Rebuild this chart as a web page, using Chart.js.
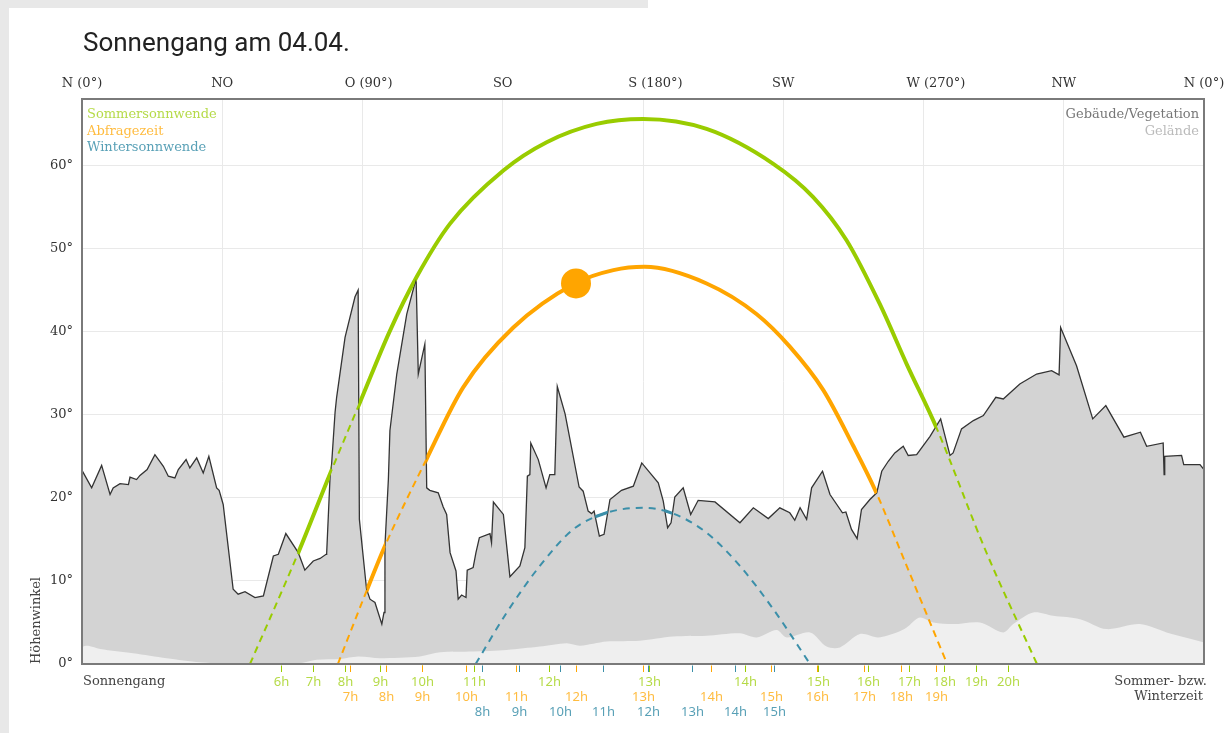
<!DOCTYPE html>
<html>
<head>
<meta charset="utf-8">
<title>Sonnengang am 04.04.</title>
<script src="https://cdn.jsdelivr.net/npm/chart.js@4"></script>
<style>
  html, body { margin: 0; padding: 0; background: #fff; }
  #wrap { position: relative; width: 1231px; height: 733px; overflow: hidden; }
  #stripTop { position: absolute; left: 0; top: 0; width: 648px; height: 8px; background: #e8e8e8; }
  #stripLeft { position: absolute; left: 0; top: 0; width: 9px; height: 733px; background: #e8e8e8; }
  canvas { position: absolute; left: 0; top: 0; }
</style>
</head>
<body>
<div id="wrap">
  <div id="stripTop"></div>
  <div id="stripLeft"></div>
  <canvas id="sunChart" width="1231" height="733"></canvas>
</div>
<script>
const TITLE = 'Sonnengang am 04.04.';
// leading spaces push the labels with degrees a little to the right, as in the original
const DIRECTIONS = ['N (0°)', 'NO', '   O (90°)', 'SO', '      S (180°)', 'SW', '      W (270°)', 'NW', 'N (0°)'];

// Horizont durch Gebäude/Vegetation (Azimut °, Höhe °)
const BUILDING_AZ = [0, 3.1, 6.3, 9.0, 10.0, 12.2, 14.9, 15.4, 17.5, 18.6, 20.9, 23.4, 26.1, 27.7, 29.8, 30.9,
  33.4, 34.6, 36.8, 38.9, 40.7, 43.2, 44.0, 45.3, 48.5, 50.1, 52.3, 55.5, 58.2, 61.4, 63.0, 65.4, 69.4,
  71.5, 74.2, 76.4, 78.3, 78.5, 79.6, 80.1, 81.2, 81.7, 84.4, 87.6, 88.6, 89.0, 91.3, 92.4, 94.0, 96.2,
  96.9, 97.2, 98.3, 98.8, 101.0, 104.2, 107.2, 107.9, 110.0, 110.6, 111.6, 114.3, 115.9, 117.0, 118.1,
  120.0, 120.7, 121.8, 123.2, 123.6, 125.5, 126.4, 127.5, 130.9, 131.4, 132.0, 135.2, 137.3, 140.5,
  142.1, 142.9, 143.7, 144.0, 146.4, 148.9, 150.1, 151.7, 152.5, 155.0, 159.5, 160.8, 162.4, 163.5,
  164.3, 166.0, 167.5, 169.4, 173.1, 176.9, 179.6, 184.9, 186.5, 187.9, 189.0, 190.2, 192.9, 195.3,
  197.7, 203.1, 211.1, 215.4, 220.2, 223.9, 227.1, 228.7, 230.4, 232.5, 234.1, 237.6, 240.0, 244.0,
  245.1, 246.9, 248.7, 250.1, 252.8, 255.0, 256.6, 258.7, 260.8, 263.5, 265.1, 267.8, 272.1, 275.5,
  278.5, 279.5, 282.2, 286.0, 289.2, 293.2, 295.6, 300.9, 306.3, 311.1, 313.5, 314.0, 319.1, 324.3,
  328.5, 334.3, 339.6, 341.6, 346.9, 347.2, 347.4, 352.8, 353.5, 358.7, 360];
const BUILDING_ALT = [23.3, 21.2, 23.9, 20.4, 21.2, 21.7, 21.6, 22.5, 22.2, 22.7, 23.4, 25.2, 23.8, 22.6, 22.4, 23.4,
  24.6, 23.6, 24.8, 23.0, 25.0, 21.2, 20.9, 19.2, 9.0, 8.4, 8.7, 8.0, 8.2, 13.0, 13.2, 15.7, 13.4,
  11.3, 12.4, 12.7, 13.2, 13.3, 22.6, 24.1, 30.3, 32.1, 39.3, 44.2, 45.0, 17.4, 9.0, 7.8, 7.4, 4.8,
  6.2, 14.2, 22.2, 28.1, 34.9, 42.1, 46.4, 34.9, 38.5, 21.2, 20.9, 20.6, 18.9, 18.0, 13.4,
  11.2, 7.8, 8.3, 8.0, 11.3, 11.6, 13.4, 15.2, 15.7, 14.6, 19.5, 18.0, 10.5, 11.8,
  14.0, 22.6, 22.8, 26.6, 24.6, 21.2, 22.8, 22.8, 33.4, 30.1, 21.3, 20.8, 18.4, 18.1,
  18.4, 15.4, 15.6, 19.8, 20.9, 21.4, 24.2, 21.8, 19.6, 16.4, 17.0, 20.1, 21.2, 18.0,
  19.7, 19.5, 17.0, 18.8, 17.5, 18.8, 18.2, 17.3, 18.8, 17.4, 21.2, 23.2, 20.4, 18.2,
  18.3, 16.2, 15.1, 18.6, 19.8, 20.6, 23.2, 24.4, 25.4, 26.2, 25.1, 25.2, 27.4, 29.5,
  25.1, 25.4, 28.3, 29.3, 29.9, 32.1, 31.9, 33.7, 34.9, 35.3, 34.8, 40.5, 35.9, 29.5,
  31.1, 27.3, 27.9, 26.2, 26.6, 22.8, 25.0, 25.1, 24.0, 24.0, 23.4];

// Geländehorizont
const TERRAIN_AZ = [0, 2.0, 5.8, 16.4, 27.2, 37.9, 48.4, 69.9, 75.3, 82.8, 88.6, 95.6, 108.4, 114.9, 125.5,
  136.3, 146.9, 155.5, 159.8, 168.3, 179.0, 189.7, 200.4, 211.1, 216.5, 222.9, 226.1, 233.6, 238.9,
  243.2, 249.6, 255.5, 261.4, 264.6, 268.8, 273.1, 279.5, 288.1, 295.6, 298.8, 305.2, 311.6, 320.2,
  328.7, 339.4, 348.0, 360];
const TERRAIN_ALT = [2.1, 2.2, 1.8, 1.3, 0.7, 0.2, 0, 0.1, 0.5, 0.6, 0.9, 0.7, 0.9, 1.4, 1.5,
  1.7, 2.1, 2.5, 2.2, 2.7, 2.8, 3.3, 3.4, 3.7, 3.2, 4.1, 3.2, 3.8, 2.1,
  2.0, 3.6, 3.2, 3.8, 4.4, 5.6, 5.0, 4.8, 5.0, 3.8, 4.8, 6.2, 5.8, 5.4,
  4.2, 4.8, 3.8, 2.6];

// Sonnenbahnen
const SUMMER_AZ = [53.9, 69.4, 79.6, 89.2, 98.8, 107.4, 118.1, 135.2, 149.1, 165.1, 180.0, 200.4, 221.8,
  234.6, 245.3, 256.0, 264.6, 274.2, 290.2, 306.4];
const SUMMER_ALT = [0, 13.4, 22.9, 31.5, 40.1, 46.6, 53.0, 59.4, 62.8, 65.0, 65.6, 64.4, 60.2,
  56.2, 51.0, 43.3, 36.1, 28.4, 13.4, 0];
const QUERY_AZ = [82.1, 91.1, 97.2, 110.6, 122.3, 138.4, 158.2, 170.5, 180.5, 200.4, 216.5, 227.1, 237.8,
  247.4, 254.4, 264.6, 277.6];
const QUERY_ALT = [0, 8.6, 14.2, 24.7, 33.3, 40.5, 45.8, 47.4, 47.8, 45.8, 42.1, 38.2, 33.0,
  26.3, 21.0, 11.8, 0];
const WINTER_AZ = [126.3, 136.3, 146.9, 157.6, 168.3, 180.1, 189.7, 200.4, 211.1, 221.8, 233.6];
const WINTER_ALT = [0, 6.2, 11.8, 16.2, 18.2, 18.8, 18.1, 15.8, 11.8, 6.6, 0];
const SUN_AZ = [158.5];
const SUN_ALT = [45.8];

// Stundenmarken
const SUMMER_HOURS = ['6h', '7h', '8h', '9h', '10h', '11h', '12h', '13h', '14h', '15h', '16h', '17h', '18h', '19h', '20h'];
const SUMMER_HOUR_AZ = [63.8, 74.1, 84.4, 95.6, 109.1, 125.8, 149.8, 182.0, 212.7, 236.1, 252.2, 265.3, 276.5, 286.8, 297.1];
const QUERY_HOURS = ['7h', '8h', '9h', '10h', '11h', '12h', '13h', '14h', '15h', '16h', '17h', '18h', '19h'];
const QUERY_HOUR_AZ = [86.0, 97.4, 109.1, 123.1, 139.1, 158.4, 180.0, 201.8, 221.0, 235.8, 250.9, 262.7, 274.0];
const WINTER_HOURS = ['8h', '9h', '10h', '11h', '12h', '13h', '14h', '15h'];
const WINTER_HOUR_AZ = [128.3, 140.2, 153.4, 167.2, 181.7, 195.7, 209.5, 222.0];

const GREEN = '#99cc00';
const ORANGE = '#ffa500';
const BLUE = '#3b8fa9';
const GREEN_TEXT = 'rgba(153, 204, 0, 0.72)';
const ORANGE_TEXT = 'rgba(255, 165, 0, 0.75)';
const BLUE_TEXT = 'rgba(59, 143, 169, 0.85)';

function toPoints(xs, ys) {
  return xs.map((x, i) => ({ x: x, y: ys[i] }));
}

// draws a dataset only in the sky above the building horizon (dataset 0)
const skyClip = {
  id: 'skyClip',
  beforeDatasetDraw(chart, args) {
    if (!chart.data.datasets[args.index].skyOnly) return;
    const { ctx, chartArea: a } = chart;
    const pts = chart.getDatasetMeta(0).data;
    ctx.save();
    ctx.beginPath();
    ctx.moveTo(pts[0].x, pts[0].y);
    pts.forEach(p => ctx.lineTo(p.x, p.y));
    ctx.lineTo(a.right + 10, pts[pts.length - 1].y);
    ctx.lineTo(a.right + 10, a.top - 20);
    ctx.lineTo(a.left - 10, a.top - 20);
    ctx.lineTo(a.left - 10, pts[0].y);
    ctx.closePath();
    ctx.clip();
  },
  afterDatasetDraw(chart, args) {
    if (chart.data.datasets[args.index].skyOnly) chart.ctx.restore();
  }
};

const hourRows = [
  { labels: SUMMER_HOURS, az: SUMMER_HOUR_AZ, tick: GREEN, text: GREEN_TEXT },
  { labels: QUERY_HOURS, az: QUERY_HOUR_AZ, tick: ORANGE, text: ORANGE_TEXT },
  { labels: WINTER_HOURS, az: WINTER_HOUR_AZ, tick: BLUE, text: BLUE_TEXT }
];

const decorations = {
  id: 'decorations',
  afterDatasetsDraw(chart) {
    const { ctx, chartArea: a } = chart;
    ctx.save();
    ctx.strokeStyle = '#7a7a7a';
    ctx.lineWidth = 2;
    ctx.strokeRect(a.left, a.top, a.right - a.left, a.bottom - a.top);
    ctx.restore();
  },
  afterDraw(chart) {
    const { ctx, chartArea: a } = chart;
    const x = chart.scales.x;
    ctx.save();

    ctx.font = '26px Roboto';
    ctx.fillStyle = '#222';
    ctx.textAlign = 'left';
    ctx.textBaseline = 'alphabetic';
    ctx.fillText(TITLE, a.left + 1, 51);

    ctx.font = "13px 'DejaVu Serif'";
    ctx.textBaseline = 'middle';
    [['Sommersonnwende', GREEN_TEXT], ['Abfragezeit', ORANGE_TEXT], ['Wintersonnwende', BLUE_TEXT]]
      .forEach((item, i) => {
        ctx.fillStyle = item[1];
        ctx.fillText(item[0], a.left + 5, a.top + 16 + i * 16.5);
      });
    ctx.textAlign = 'right';
    [['Gebäude/Vegetation', '#777'], ['Gelände', '#bbb']].forEach((item, i) => {
      ctx.fillStyle = item[1];
      ctx.fillText(item[0], a.right - 5, a.top + 16 + i * 16.5);
    });

    ctx.fillStyle = '#444';
    ctx.textAlign = 'left';
    ctx.fillText('Sonnengang', a.left + 1, a.bottom + 18);
    ctx.textAlign = 'right';
    ctx.fillText('Sommer- bzw.', a.right + 3, a.bottom + 18);
    ctx.fillText('Winterzeit', a.right - 1, a.bottom + 33);

    ctx.font = "13px 'Noto Sans'";
    ctx.textAlign = 'center';
    ctx.lineWidth = 1;
    hourRows.forEach((row, r) => {
      row.az.forEach((az, i) => {
        const px = Math.round(x.getPixelForValue(az)) + 0.5;
        ctx.strokeStyle = row.tick;
        ctx.beginPath();
        ctx.moveTo(px, a.bottom + 1.5);
        ctx.lineTo(px, a.bottom + 8);
        ctx.stroke();
        ctx.fillStyle = row.text;
        ctx.fillText(row.labels[i], px, a.bottom + 18 + r * 15);
      });
    });
    ctx.restore();
  }
};

Chart.defaults.font.family = "'DejaVu Serif', serif";
Chart.defaults.font.size = 13;
Chart.defaults.color = '#333';

const pathStyle = { pointRadius: 0, fill: false, cubicInterpolationMode: 'monotone' };

const ctx = document.getElementById('sunChart').getContext('2d');
new Chart(ctx, {
  type: 'line',
  data: {
    datasets: [
      { label: 'Gebäude/Vegetation', data: toPoints(BUILDING_AZ, BUILDING_ALT), fill: 'origin',
        backgroundColor: '#d3d3d3', borderColor: '#333', borderWidth: 1.3, pointRadius: 0, tension: 0, order: 9 },
      { label: 'Gelände', data: toPoints(TERRAIN_AZ, TERRAIN_ALT), fill: 'origin',
        backgroundColor: '#efefef', borderWidth: 0, pointRadius: 0, tension: 0.3, order: 8 },
      { ...pathStyle, label: 'Sommersonnwende', data: toPoints(SUMMER_AZ, SUMMER_ALT), borderColor: GREEN,
        borderWidth: 2, borderDash: [7, 5], order: 7 },
      { ...pathStyle, label: 'Abfragezeit', data: toPoints(QUERY_AZ, QUERY_ALT), borderColor: ORANGE,
        borderWidth: 2, borderDash: [7, 5], order: 6 },
      { ...pathStyle, label: 'Wintersonnwende', data: toPoints(WINTER_AZ, WINTER_ALT), borderColor: BLUE,
        borderWidth: 2, borderDash: [7, 6], order: 5 },
      { ...pathStyle, label: 'Sommersonnwende sichtbar', data: toPoints(SUMMER_AZ, SUMMER_ALT), borderColor: GREEN,
        borderWidth: 4, order: 4, skyOnly: true },
      { ...pathStyle, label: 'Abfragezeit sichtbar', data: toPoints(QUERY_AZ, QUERY_ALT), borderColor: ORANGE,
        borderWidth: 4, order: 3, skyOnly: true },
      { ...pathStyle, label: 'Wintersonnwende sichtbar', data: toPoints(WINTER_AZ, WINTER_ALT), borderColor: BLUE,
        borderWidth: 3, order: 2, skyOnly: true },
      { label: 'Sonne', data: toPoints(SUN_AZ, SUN_ALT), showLine: false, pointRadius: 15,
        pointBackgroundColor: ORANGE, pointBorderWidth: 0, order: 1 }
    ]
  },
  options: {
    responsive: false,
    animation: false,
    events: [],
    layout: { padding: { top: 69, right: 27, bottom: 69, left: 0 } },
    plugins: { legend: { display: false }, tooltip: { enabled: false } },
    scales: {
      x: {
        type: 'linear', position: 'top', min: 0, max: 360,
        ticks: { stepSize: 45, padding: 8, autoSkip: false, maxRotation: 0,
          callback: v => DIRECTIONS[Math.round(v / 45)] },
        grid: { color: '#e9e9e9', drawTicks: false },
        border: { display: false },
        afterFit: s => { s.height = 30; s.paddingLeft = 0; s.paddingRight = 0; }
      },
      y: {
        min: 0, max: 68,
        ticks: { stepSize: 10, includeBounds: false, padding: 9, callback: v => v + '°' },
        grid: { color: '#e9e9e9', drawTicks: false },
        border: { display: false },
        title: { display: true, text: 'Höhenwinkel', align: 'start', color: '#444',
          padding: { top: 29, bottom: 0 } },
        afterFit: s => { s.width = 82; s.paddingTop = 0; s.paddingBottom = 0; }
      }
    }
  },
  plugins: [skyClip, decorations]
});
</script>
</body>
</html>
